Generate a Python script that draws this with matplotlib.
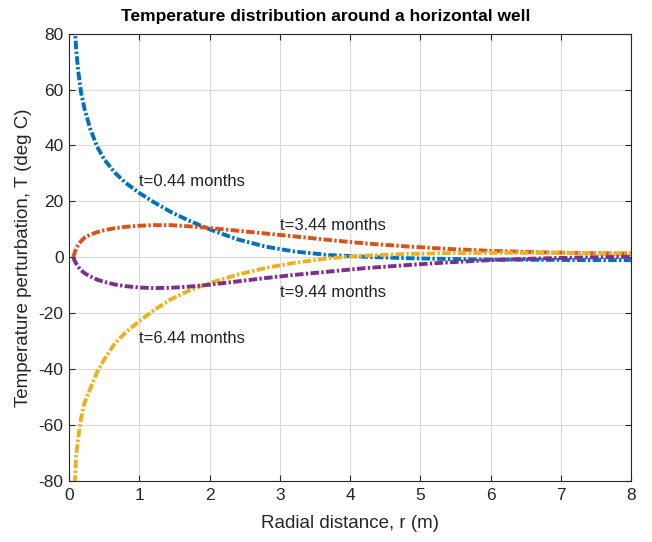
import matplotlib
matplotlib.use("Agg")
import matplotlib.pyplot as plt
import numpy as np

plt.rcParams['font.family'] = ['Liberation Sans', 'DejaVu Sans']
plt.rcParams['axes.unicode_minus'] = False

nan = np.nan

# radial distance (m)
r = [0.06, 0.08, 0.1, 0.13, 0.17, 0.22, 0.3, 0.4, 0.5, 0.65, 0.8, 1.0, 1.2, 1.45,
     1.7, 2.0, 2.4, 2.8, 3.2, 3.7, 4.2, 4.8, 5.4, 6.0, 6.7, 7.4, 8.0]

# temperature perturbation (deg C) for each time
T_044 = [nan, 83, 74.5, 66.5, 59, 53, 46, 39.5, 35, 30.3, 26.7, 23, 19.8, 16.2,
         13.2, 10, 6.4, 3.8, 2.1, 0.8, 0.2, -0.3, -0.6, -0.8, -0.9, -1.0, -1.0]
T_344 = [0, 1.8, 3.0, 4.5, 5.8, 7.0, 8.1, 9.0, 9.7, 10.4, 10.9, 11.3, 11.5, 11.5,
         11.1, 10.5, 9.5, 8.5, 7.5, 6.2, 5.0, 3.9, 3.0, 2.3, 1.8, 1.5, 1.3]
T_644 = [nan, -81, -71, -64.5, -57.5, -52, -47, -41, -36.5, -30.8, -27, -22.8, -19, -15,
         -12, -9.2, -6.2, -3.8, -2.0, -0.3, 0.6, 1.2, 1.5, 1.6, 1.6, 1.5, 1.4]
T_944 = [0, -1.3, -2.2, -3.4, -4.6, -5.7, -6.8, -8.0, -8.8, -9.7, -10.3, -10.8, -11.0, -10.9,
         -10.5, -9.8, -8.6, -7.4, -6.3, -5.1, -3.9, -2.8, -1.8, -1.0, -0.4, 0.0, 0.2]

labels = ['t=0.44 months', 't=3.44 months', 't=6.44 months', 't=9.44 months']
label_pos = [(1.0, 27), (3.0, 11.5), (1.0, -29), (3.0, -12.5)]
colors = ['#0072BD', '#D95319', '#EDB120', '#7E2F8E']
series = [T_044, T_344, T_644, T_944]

fig = plt.figure(figsize=(6.52, 5.42), dpi=100)
ax = fig.add_axes([0.106, 0.1125, 0.862, 0.8255])

for T, c in zip(series, colors):
    ax.plot(r, T, linestyle=(0, (2.2, 0.6, 0.6, 0.6)), color=c, linewidth=2.8)

for lab, (x, y) in zip(labels, label_pos):
    ax.text(x, y, lab, fontsize=12, color='#222222', va='center', ha='left')

ax.set_xlim(0, 8)
ax.set_ylim(-80, 80)
ax.set_xticks(range(0, 9))
ax.set_yticks(range(-80, 81, 20))
ax.grid(True, color='#d9d9d9', linewidth=0.8)
ax.set_axisbelow(True)
ax.tick_params(direction='in', top=True, right=True, labelsize=12.5,
               colors='#262626', length=4)
ax.tick_params(axis='x', pad=5)
ax.tick_params(axis='y', pad=4)
for s in ax.spines.values():
    s.set_color('#262626')
    s.set_linewidth(0.8)

ax.set_title('Temperature distribution around a horizontal well',
             fontsize=12.5, fontweight='bold', pad=9, x=0.457)
ax.set_xlabel('Radial distance, r (m)', fontsize=13.5, color='#262626', labelpad=9)
ax.set_ylabel('Temperature perturbation, T (deg C)', fontsize=13.5, color='#262626',
              labelpad=5)

fig.savefig('out.png', dpi=100)
